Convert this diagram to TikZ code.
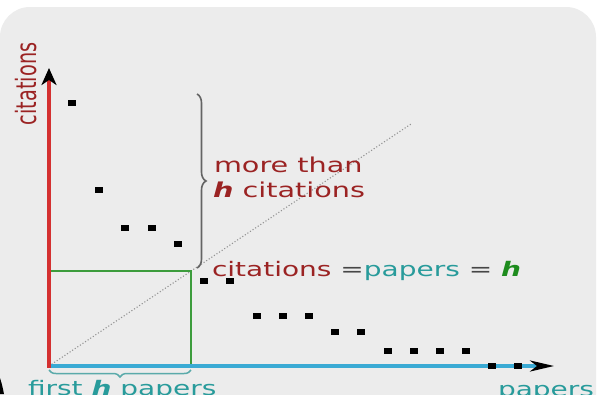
\documentclass[tikz,border=0pt]{standalone}
\usepackage{fontspec}
\usetikzlibrary{arrows.meta,decorations.pathreplacing}
\newfontfamily\dfw[FakeStretch=1.4]{DejaVu Sans}
\newfontfamily\dfn{DejaVu Sans}
\definecolor{bggray}{RGB}{236,236,236}
\definecolor{txtred}{RGB}{155,35,35}
\definecolor{txtteal}{RGB}{40,155,155}
\definecolor{hgreen}{RGB}{30,140,30}
\definecolor{axred}{RGB}{212,48,48}
\definecolor{axblue}{RGB}{58,170,212}
\definecolor{rgreen}{RGB}{60,156,60}
\definecolor{eqgray}{RGB}{70,70,70}
\definecolor{bracegray}{RGB}{100,100,100}
\definecolor{braceteal}{RGB}{90,170,170}
\tikzset{
  dot/.style={fill=black, minimum width=7.5pt, minimum height=6pt, inner sep=0pt, outer sep=0pt},
  lbl/.style={inner sep=0pt, outer sep=0pt, anchor=base west, font=\dfw\fontsize{20}{24}\selectfont},
}
\newcommand{\hh}{\textbf{\textit{h}}}
\begin{document}
\begin{tikzpicture}[x=1pt,y=-1pt]
\useasboundingbox (0,0) rectangle (597,394);
\clip (0,0) rectangle (597,394);
\fill[white] (0,0) rectangle (597,394);
\fill[bggray, rounded corners=30pt] (0,430) -- (0,7) -- (596,7) -- (596,430) -- cycle;
\fill[black] (0,378) .. controls (2,384) and (3,389) .. (4,394) -- (0,394) -- cycle;

\coordinate (O) at (49,366);
\coordinate (Y) at (49,68);
\coordinate (X) at (554,366);
\coordinate (C) at (191,271);
\coordinate (CL) at (49,271);
\coordinate (CB) at (191,366);
\coordinate (D) at (411,124);

% dotted diagonal
\draw[gray!85, dotted, line width=1.1pt] (O) -- (D);
% green square
\draw[rgreen, line width=2.2pt] (CL) -- (C) -- (CB);
% axes
\draw[axblue, line width=3.2pt, -{Stealth[black,length=24pt,width=11pt,inset=7pt]}] (O) -- (X);
\draw[axred, line width=3.6pt, -{Stealth[black,length=17pt,width=15pt,inset=5pt]}] ([yshift=-1.8pt]O) -- (Y);

% braces
\coordinate (B1) at (197,94);
\coordinate (B2) at (197,268);
\draw[bracegray, line width=1.6pt, decorate, decoration={brace, amplitude=9pt}] (B1) -- (B2);
\coordinate (B3) at (191,370);
\coordinate (B4) at (49,370);
\draw[braceteal, line width=1.5pt, decorate, decoration={brace, amplitude=7pt}] (B3) -- (B4);

% points
\node[dot] (p1) at (72,103) {};
\node[dot] (p2) at (99,190) {};
\node[dot] (p3) at (125,228) {};
\node[dot] (p4) at (152,228) {};
\node[dot] (p5) at (178,244) {};
\node[dot] (p6) at (204,281) {};
\node[dot] (p7) at (230,281) {};
\node[dot] (p8) at (257,316) {};
\node[dot] (p9) at (283,316) {};
\node[dot] (p10) at (309,316) {};
\node[dot] (p11) at (335,332) {};
\node[dot] (p12) at (361,332) {};
\node[dot] (p13) at (388,351) {};
\node[dot] (p14) at (414,351) {};
\node[dot] (p15) at (440,351) {};
\node[dot] (p16) at (466,351) {};
\node[dot] (p17) at (492,366) {};
\node[dot] (p18) at (518,366) {};

% labels
\node[inner sep=0pt, outer sep=0pt, rotate=90, anchor=base west, text=txtred] (ylab) at (36,125) {\scalebox{1}[1.45]{\dfn\fontsize{19.3}{23}\selectfont citations}};
\node[lbl, text=txtred] (more1) at (214,172) {\fontsize{20.5}{24}\selectfont more than};
\node[lbl, text=txtred] (more2) at (213,197) {\fontsize{20.5}{24}\selectfont \hh\ citations};
\node[lbl] (eq) at (212,276) {\textcolor{txtred}{citations} \textcolor{eqgray}{=}\textcolor{txtteal}{papers} \textcolor{eqgray}{=} \textcolor{hgreen}{\hh}};
\node[lbl, text=txtteal] (first) at (28,395) {first \hh\ papers};
\node[lbl, text=txtteal] (xlab) at (498,396) {papers};
\end{tikzpicture}
\end{document}
